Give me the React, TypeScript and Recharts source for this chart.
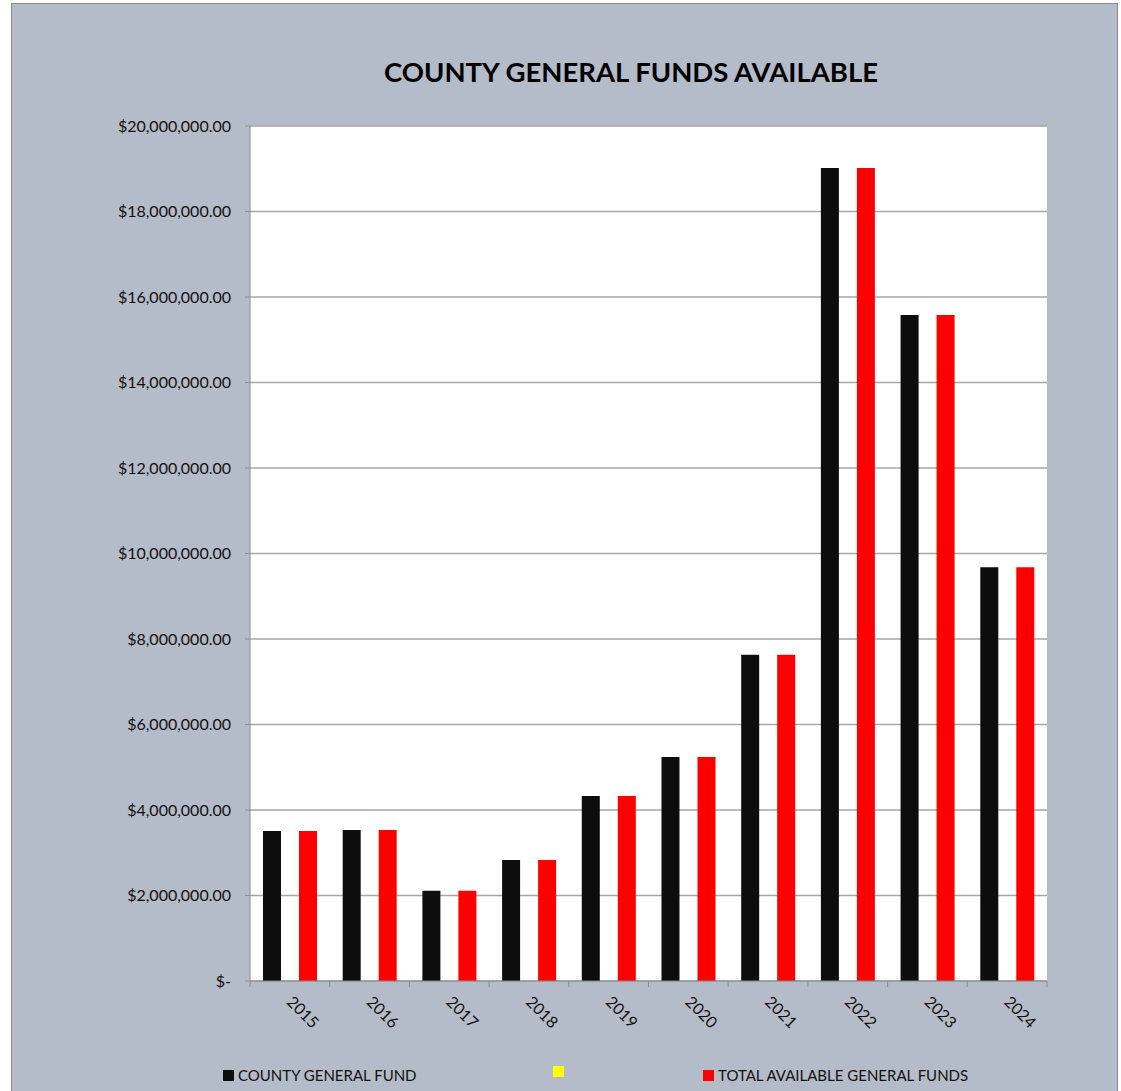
import React from 'react';
import {
  BarChart,
  Bar,
  XAxis,
  YAxis,
  CartesianGrid,
} from 'recharts';

const years = ['2015', '2016', '2017', '2018', '2019', '2020', '2021', '2022', '2023', '2024'];
const countyGeneralFund = [3510000, 3530000, 2110000, 2830000, 4330000, 5240000, 7630000, 19020000, 15580000, 9680000];
const blankSeries = [0, 0, 0, 0, 0, 0, 0, 0, 0, 0];
const totalAvailable = [3510000, 3530000, 2110000, 2830000, 4330000, 5240000, 7630000, 19020000, 15580000, 9680000];
const yTicks = [0, 2000000, 4000000, 6000000, 8000000, 10000000, 12000000, 14000000, 16000000, 18000000, 20000000];

const series = [
  { key: 'county', name: 'COUNTY GENERAL FUND', color: '#0d0d0d' },
  { key: 'blank', name: '', color: '#ffff00' },
  { key: 'total', name: 'TOTAL AVAILABLE GENERAL FUNDS', color: '#ff0000' },
];

const data = years.map((year, i) => ({
  year,
  county: countyGeneralFund[i],
  blank: blankSeries[i],
  total: totalAvailable[i],
}));

const FONT = 'Lato, "Open Sans", sans-serif';
const PLOT_WIDTH = 797;
const BAND = PLOT_WIDTH / years.length;

const formatMoney = (v: number) =>
  v === 0
    ? '$-'
    : '$' + v.toLocaleString('en-US', { minimumFractionDigits: 2, maximumFractionDigits: 2 });

const YearTick = (props: any) => {
  const { x, y, payload, index } = props;
  const axisY = y - 8;
  return (
    <g>
      <line x1={x - BAND / 2} y1={axisY} x2={x - BAND / 2} y2={axisY + 6} stroke="#8c8c8c" />
      {index === years.length - 1 && (
        <line x1={x + BAND / 2} y1={axisY} x2={x + BAND / 2} y2={axisY + 6} stroke="#8c8c8c" />
      )}
      <g transform={`translate(${x - 4},${y + 14}) rotate(45)`}>
        <text x={0} y={0} textAnchor="start" fill="#111" fontSize={16} fontFamily={FONT}>
          {payload.value}
        </text>
      </g>
    </g>
  );
};

const legendPos = [223, 553, 703];

export default function App() {
  return (
    <div style={{ position: 'absolute', left: 0, top: 0, width: 1121, height: 1091, background: '#fff' }}>
      <div
        style={{
          position: 'absolute',
          left: 11,
          top: 3,
          width: 1105,
          height: 1088,
          border: '1px solid #8a8a8a',
          background: '#b4bbc9',
          fontFamily: FONT,
        }}
      >
        <div
          style={{
            position: 'absolute',
            left: 0,
            width: 1238,
            top: 51,
            textAlign: 'center',
            fontSize: 27.5,
            fontWeight: 700,
            color: '#000',
          }}
        >
          COUNTY GENERAL FUNDS AVAILABLE
        </div>
        <BarChart
          width={1105}
          height={1088}
          data={data}
          margin={{ top: 122, right: 70, bottom: 51, left: 0 }}
          barCategoryGap="16.3%"
          barGap={0}
        >
          <CartesianGrid vertical={false} stroke="#a6a6a6" strokeWidth={1.5} fill="#ffffff" />
          <XAxis
            dataKey="year"
            height={60}
            tickLine={false}
            tick={<YearTick />}
            interval={0}
            axisLine={{ stroke: '#8c8c8c' }}
          />
          <YAxis
            width={238}
            domain={[0, 20000000]}
            ticks={yTicks}
            tickFormatter={formatMoney}
            tickSize={5}
            tickMargin={14}
            tickLine={{ stroke: '#8c8c8c' }}
            axisLine={{ stroke: '#8c8c8c' }}
            tick={{ fill: '#111', fontSize: 16, fontFamily: FONT }}
            interval={0}
          />
          {series.map((s) => (
            <Bar key={s.key} dataKey={s.key} name={s.name} fill={s.color} isAnimationActive={false} />
          ))}
        </BarChart>
        {series.map((s, i) => (
          <div
            key={s.key}
            style={{
              position: 'absolute',
              left: legendPos[i] - 12,
              top: 1062,
              display: 'flex',
              alignItems: 'center',
              fontSize: 15,
              color: '#111',
              whiteSpace: 'nowrap',
            }}
          >
            <span style={{ display: 'inline-block', width: 11, height: 11, background: s.color, marginRight: 4 }} />
            <span>{s.name}</span>
          </div>
        ))}
      </div>
    </div>
  );
}
